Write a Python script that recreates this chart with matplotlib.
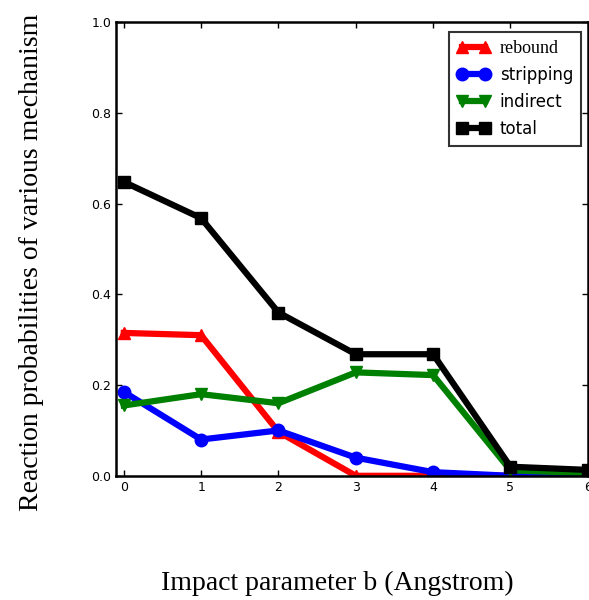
import numpy as np
import matplotlib
matplotlib.use("Agg")
import matplotlib.pyplot as plt

# impact parameter b and reaction probabilities
b = [0, 1, 2, 3, 4, 5, 6]
rebound = [0.315, 0.310, 0.097, 0.0, 0.0, 0.0, 0.0]
stripping = [0.185, 0.080, 0.100, 0.040, 0.008, 0.0, 0.0]
indirect = [0.155, 0.180, 0.160, 0.228, 0.222, 0.012, 0.006]
total = [0.648, 0.568, 0.360, 0.268, 0.268, 0.020, 0.013]

fig = plt.figure(figsize=(5.89, 6.0), dpi=100)
ax = fig.add_axes([0.197, 0.207, 0.801, 0.756])

lw = 4.5
ms = 9
ax.plot(b, rebound, color='red', marker='^', lw=lw, ms=ms, mec='red', label='rebound')
ax.plot(b, stripping, color='blue', marker='o', lw=lw, ms=ms, mec='blue', label='stripping')
ax.plot(b, indirect, color='green', marker='v', lw=lw, ms=ms, mec='green', label='indirect')
ax.plot(b, total, color='black', marker='s', lw=lw, ms=ms, mec='black', label='total')

ax.set_xlim(-0.1, 6)
ax.set_ylim(0, 1.0)
ax.set_xticks(b)
ax.set_yticks([0.0, 0.2, 0.4, 0.6, 0.8, 1.0])
ax.set_yticklabels(['0.0', '0.2', '0.4', '0.6', '0.8', '1.0'])
ax.tick_params(direction='in', top=True, right=True, labelsize=9, length=4, width=1)
for s in ax.spines.values():
    s.set_linewidth(1.8)

# axis titles placed in figure coordinates
fig.text(0.053, 0.563, 'Reaction probabilities of various mechanism',
         family='Liberation Serif', fontsize=20, rotation=90, ha='center', va='center')
fig.text(0.572, 0.017, 'Impact parameter b (Angstrom)',
         family='Liberation Serif', fontsize=20, ha='center', va='baseline')

leg = ax.legend(loc='upper right', numpoints=2, fancybox=False, frameon=True,
                fontsize=12, handlelength=2.0, borderpad=0.45, labelspacing=0.55,
                handletextpad=0.6, bbox_to_anchor=(0.985, 0.978), borderaxespad=0)
leg.get_frame().set_edgecolor('black')
leg.get_frame().set_linewidth(1.5)
leg.get_texts()[0].set_family('Liberation Serif')
leg.get_texts()[0].set_fontsize(13)

fig.savefig('out.png', dpi=100)
